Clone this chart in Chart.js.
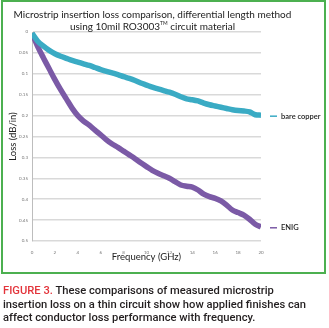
<!DOCTYPE html>
<html lang="en">
<head>
<meta charset="UTF-8">
<title>Microstrip insertion loss comparison</title>
<script src="https://cdn.jsdelivr.net/npm/chart.js"></script>
<style>
    body { margin: 0; background: #fff; width: 329px; height: 328px; position: relative; overflow: hidden; }
    #frame { position: absolute; left: 1px; top: 0; width: 325px; height: 274px; box-sizing: border-box; border: 2px solid #4cb050; pointer-events: none; }
    #wrap { position: absolute; left: 0; top: 0; width: 329px; height: 275px; }
    #title { position: absolute; left: 0; top: 8px; width: 305px; text-align: center; font-family: Lato, sans-serif; font-size: 10px; line-height: 12px; color: #222; }
    #title sup { font-size: 5px; vertical-align: top; line-height: 6px; }
    #caption { position: absolute; left: 3px; top: 284px; white-space: nowrap; font-family: Roboto, sans-serif; font-weight: 500; font-size: 11.2px; line-height: 13.5px; color: #231f20; }
    #caption b { color: #e3343b; font-weight: 500; }
</style>
</head>
<body>
<div id="wrap"><canvas id="lossChart"></canvas></div>
<div id="title">Microstrip insertion loss comparison, differential length method<br>using 10mil RO3003<sup>TM</sup> circuit material</div>
<div id="frame"></div>
<div id="caption"><b>FIGURE 3.</b> These comparisons of measured microstrip<br>insertion loss on a thin circuit show how applied finishes can<br>affect conductor loss performance with frequency.</div>
<script>
// frequency points (GHz)
const freq = [0, 0.5, 1, 1.5, 2, 2.5, 3, 3.5, 4, 4.5, 5, 5.5, 6, 6.5, 7, 7.5, 8, 8.5, 9, 9.5,
    10, 10.5, 11, 11.5, 12, 12.5, 13, 13.5, 14, 14.5, 15, 15.5, 16, 16.5, 17, 17.5, 18, 18.5, 19, 19.5, 20];

// insertion loss, dB/in
const bareCopper = [0.003, 0.022, 0.034, 0.044, 0.052, 0.058, 0.063, 0.068, 0.072, 0.076, 0.080, 0.085, 0.090, 0.094, 0.098, 0.102, 0.107, 0.111, 0.116, 0.122,
    0.127, 0.132, 0.136, 0.140, 0.144, 0.149, 0.155, 0.160, 0.162, 0.165, 0.170, 0.174, 0.177, 0.180, 0.183, 0.186, 0.188, 0.189, 0.191, 0.198, 0.199];
const enig = [0.003, 0.035, 0.062, 0.088, 0.114, 0.138, 0.160, 0.182, 0.200, 0.213, 0.223, 0.235, 0.246, 0.258, 0.268, 0.276, 0.285, 0.294, 0.303, 0.313,
    0.322, 0.331, 0.338, 0.344, 0.350, 0.358, 0.366, 0.369, 0.371, 0.378, 0.388, 0.394, 0.398, 0.404, 0.414, 0.426, 0.432, 0.438, 0.448, 0.460, 0.466];

const seriesNames = ['bare copper', 'ENIG'];
const seriesColors = ['#3aabc4', '#7b5aa6'];
const xTicks = [0, 2, 4, 6, 8, 10, 12, 14, 16, 18, 20];
const yTicks = [0, 0.05, 0.1, 0.15, 0.2, 0.25, 0.3, 0.35, 0.4, 0.45, 0.5];

function points(ys) {
    return freq.map((f, i) => ({ x: f, y: ys[i] }));
}

// label at the end of each curve
const endLabels = {
    id: 'endLabels',
    afterDatasetsDraw(chart) {
        const ctx = chart.ctx;
        ctx.save();
        ctx.font = '600 7.5px Lato, sans-serif';
        ctx.textBaseline = 'middle';
        chart.data.datasets.forEach((ds, i) => {
            const meta = chart.getDatasetMeta(i);
            const last = meta.data[meta.data.length - 1];
            const x = last.x + 9;
            const y = last.y + 1;
            ctx.strokeStyle = ds.borderColor;
            ctx.lineWidth = 1.5;
            ctx.beginPath();
            ctx.moveTo(x, y);
            ctx.lineTo(x + 7, y);
            ctx.stroke();
            ctx.fillStyle = '#222';
            ctx.fillText(ds.label, x + 11, y);
        });
        ctx.restore();
    }
};

const ctx = document.getElementById('lossChart').getContext('2d');
const lossChart = new Chart(ctx, {
    type: 'line',
    data: {
        datasets: [
            { label: seriesNames[0], data: points(bareCopper), borderColor: seriesColors[0], borderWidth: 5.5, pointRadius: 0, tension: 0.3 },
            { label: seriesNames[1], data: points(enig), borderColor: seriesColors[1], borderWidth: 5.5, pointRadius: 0, tension: 0.3 }
        ]
    },
    options: {
        responsive: true,
        maintainAspectRatio: false,
        animation: false,
        layout: { padding: { left: 7, right: 68, top: 32, bottom: 8 } },
        plugins: {
            legend: { display: false },
            tooltip: { enabled: false }
        },
        scales: {
            x: {
                type: 'linear',
                min: 0,
                max: 20,
                afterBuildTicks: s => { s.ticks = xTicks.map(v => ({ value: v })); },
                afterFit: s => { s.height = 26; },
                grid: { display: false },
                border: { display: false },
                ticks: { font: { size: 4.5, family: 'Lato' }, color: '#777', padding: 1, maxRotation: 0 },
                title: { display: true, text: 'Frequency (GHz)', font: { size: 9.5, family: 'Lato' }, color: '#222', padding: { top: 3 } }
            },
            y: {
                reverse: true,
                min: 0,
                max: 0.5,
                afterBuildTicks: s => { s.ticks = yTicks.map(v => ({ value: v })); },
                afterFit: s => { s.width = 25; },
                grid: { color: '#d9d9d9', lineWidth: 1.5, drawTicks: false },
                border: { display: true, color: '#bdbdbd', width: 1 },
                ticks: { font: { size: 4.5, family: 'Lato' }, color: '#777', padding: 4, callback: v => String(Number(v.toFixed(2))) },
                title: { display: true, text: 'Loss (dB/in)', font: { size: 9.5, family: 'Lato' }, color: '#222', padding: 0 }
            }
        }
    },
    plugins: [endLabels]
});
</script>
</body>
</html>
